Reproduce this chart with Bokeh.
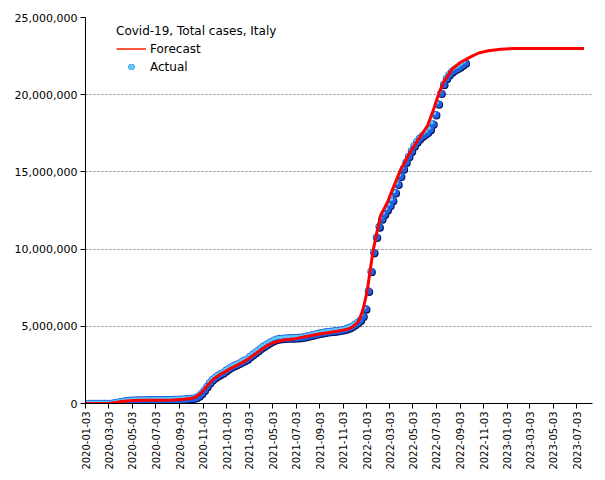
import math
from datetime import datetime
import pandas as pd
from bokeh.plotting import figure
from bokeh.models import (ColumnDataSource, FixedTicker, DatetimeTickFormatter,
                          NumeralTickFormatter, Legend, LegendItem, Range1d)
from bokeh.transform import dodge
from bokeh.embed import file_html
from bokeh.resources import INLINE

# ---------------- data ----------------
actual_start = "2020-01-03"   # weekly observations (Fridays)
actual_cases = [
    0, 0, 0, 0, 2, 3, 3, 20, 888, 4636, 17660, 47021, 86498, 119827, 147577,
    172434, 192994, 207428, 217185, 223885, 228658, 232248, 234531, 236305,
    238011, 239706, 241184, 242639, 244216, 245590, 247537, 249756, 253438,
    258136, 265409, 274644, 283180, 293025, 304323, 317409, 338398, 391611,
    484869, 647674, 862681, 1107303, 1345767, 1538217, 1688939, 1805873,
    1906377, 1991278, 2129376, 2257866, 2368733, 2455185, 2529070, 2611659,
    2706222, 2795796, 2888923, 3046762, 3175279, 3306711, 3438000, 3584899,
    3700393, 3809193, 3920945, 4022653, 4102921, 4162576, 4205970, 4217000,
    4232000, 4243000, 4250000, 4256000, 4262000, 4270000, 4285000, 4310000,
    4350000, 4390000, 4430000, 4475000, 4520000, 4560000, 4590000, 4625000,
    4650000, 4670000, 4690000, 4710000, 4735000, 4760000, 4800000, 4850000,
    4920000, 5010000, 5120000, 5250000, 5400000, 5650000, 6130000, 7280000,
    8550000, 9780000, 10770000, 11440000, 11950000, 12270000, 12560000,
    12830000, 13160000, 13650000, 14200000, 14720000, 15190000, 15630000,
    16000000, 16350000, 16680000, 16950000, 17160000, 17320000, 17440000,
    17570000, 17760000, 18110000, 18700000, 19400000, 20100000, 20660000,
    21050000, 21300000, 21480000, 21600000, 21700000, 21800000, 21930000,
    22060000,
]
actual_dates = pd.date_range(actual_start, periods=len(actual_cases), freq="7D")

forecast_dates = [
    "2020-01-03", "2020-02-20", "2020-03-05", "2020-03-20", "2020-04-05",
    "2020-04-25", "2020-05-20", "2020-07-01", "2020-08-15", "2020-09-15",
    "2020-10-01", "2020-10-15", "2020-11-01", "2020-11-15", "2020-12-01",
    "2020-12-15", "2021-01-01", "2021-01-15", "2021-02-01", "2021-02-15",
    "2021-03-01", "2021-03-15", "2021-04-01", "2021-04-15", "2021-05-01",
    "2021-05-15", "2021-06-01", "2021-07-01", "2021-08-01", "2021-09-01",
    "2021-10-01", "2021-11-01", "2021-11-15", "2021-11-26", "2021-12-08",
    "2021-12-17", "2021-12-25", "2022-01-04", "2022-01-12", "2022-01-20",
    "2022-01-30", "2022-02-08", "2022-02-25", "2022-03-13", "2022-03-31",
    "2022-04-26", "2022-05-22", "2022-06-10", "2022-06-25", "2022-07-08",
    "2022-07-21", "2022-08-14", "2022-09-04", "2022-09-30", "2022-10-21",
    "2022-11-15", "2022-12-17", "2023-01-25", "2023-07-22",
]
forecast_cases = [
    0, 0, 10000, 60000, 130000,
    180000, 205000, 215000, 230000, 270000,
    320000, 420000, 750000, 1200000, 1600000,
    1850000, 2080000, 2300000, 2500000, 2680000,
    2900000, 3150000, 3450000, 3700000, 3900000,
    4020000, 4120000, 4200000, 4350000, 4500000,
    4620000, 4740000, 4820000, 4950000, 5200000,
    5550000, 6200000, 7300000, 8700000, 10000000,
    11200000, 12200000, 13000000, 14000000, 15100000,
    16300000, 17300000, 18000000, 19000000, 20000000,
    20800000, 21700000, 22100000, 22450000, 22700000,
    22850000, 22950000, 23000000, 23000000,
]

x_tick_labels = [
    "2020-01-03", "2020-03-03", "2020-05-03", "2020-07-03", "2020-09-03",
    "2020-11-03", "2021-01-03", "2021-03-03", "2021-05-03", "2021-07-03",
    "2021-09-03", "2021-11-03", "2022-01-03", "2022-03-03", "2022-05-03",
    "2022-07-03", "2022-09-03", "2022-11-03", "2023-01-03", "2023-03-03",
    "2023-05-03", "2023-07-03",
]
y_ticks = [0, 5000000, 10000000, 15000000, 20000000, 25000000]

legend_title = "Covid-19, Total cases, Italy"
series_names = ["Forecast", "Actual"]

# ---------------- figure ----------------
FONT = "DejaVu Sans"
p = figure(width=605, height=472, output_backend="svg", toolbar_location=None,
           x_axis_type="datetime",
           x_range=Range1d(datetime(2020, 1, 2), datetime(2023, 8, 13)),
           y_range=Range1d(0, 25000000),
           min_border_left=85, min_border_right=13, min_border_top=17,
           min_border_bottom=67)
p.outline_line_color = None
p.background_fill_color = "white"
p.border_fill_color = "white"

# grid
p.xgrid.grid_line_color = None
p.ygrid.grid_line_color = "#808080"
p.ygrid.grid_line_dash = "2 2"
p.ygrid.grid_line_width = 1

# y axis
p.yaxis.ticker = FixedTicker(ticks=y_ticks)
p.yaxis.formatter = NumeralTickFormatter(format="0,0")
p.yaxis.major_label_text_font = FONT
p.yaxis.major_label_text_font_size = "11px"
p.yaxis.major_label_text_color = "black"
p.yaxis.major_tick_in = 0
p.yaxis.major_tick_out = 5
p.yaxis.minor_tick_line_color = None
p.yaxis.axis_line_color = "black"
p.yaxis.major_tick_line_color = "black"
p.yaxis.major_label_standoff = 3

# x axis
tick_ms = [pd.Timestamp(t).value / 1e6 for t in x_tick_labels]
p.xaxis.ticker = FixedTicker(ticks=tick_ms)
fmt = "%Y-%m-%d"
p.xaxis.formatter = DatetimeTickFormatter(
    milliseconds=fmt, seconds=fmt, minsec=fmt, minutes=fmt, hourmin=fmt,
    hours=fmt, days=fmt, months=fmt, years=fmt)
p.xaxis.major_label_orientation = math.pi / 2
p.xaxis.major_label_text_font = FONT
p.xaxis.major_label_text_font_size = "10px"
p.xaxis.major_label_text_color = "black"
p.xaxis.major_tick_in = 0
p.xaxis.major_tick_out = 5
p.xaxis.minor_tick_line_color = None
p.xaxis.axis_line_color = "black"
p.xaxis.major_tick_line_color = "black"
p.xaxis.major_label_standoff = 3

# ---------------- glyphs ----------------
act_src = ColumnDataSource(dict(x=actual_dates, y=actual_cases))
fc_src = ColumnDataSource(dict(x=pd.to_datetime(forecast_dates), y=forecast_cases))
# a single-point source: draws nothing in the plot, only used for the legend key
key_src = ColumnDataSource(dict(x=pd.to_datetime(forecast_dates[:1]),
                                y=forecast_cases[:1]))

DAY_MS = 86400000
r_dark = p.scatter(x=dodge("x", 2 * DAY_MS), y=dodge("y", -55000), source=act_src,
                   size=8, marker="circle", fill_color="#05105e", line_color=None)
r_ball = p.scatter(x="x", y="y", source=act_src, size=7.5, marker="circle",
                   fill_color="#1d62e0", line_color=None)
r_hl = p.scatter(x=dodge("x", -3 * DAY_MS), y=dodge("y", 75000), source=act_src,
                 size=3.5, marker="circle", fill_color="#5ec8ff", line_color=None)
r_line = p.line(x="x", y="y", source=fc_src, line_color="#ff0000", line_width=3)
r_key = p.line(x="x", y="y", source=key_src, line_color="#ff2200", line_width=1.5)

legend = Legend(
    items=[LegendItem(label=series_names[0], renderers=[r_key]),
           LegendItem(label=series_names[1], renderers=[r_dark, r_ball, r_hl])],
    title=legend_title, location=(31, 329), padding=0, margin=0,
    border_line_color=None, background_fill_alpha=0,
    glyph_width=30, glyph_height=15, label_height=15, spacing=3,
    label_standoff=4, title_standoff=3,
    label_text_font=FONT, label_text_font_size="12px", label_text_color="black",
    title_text_font=FONT, title_text_font_size="12px",
    title_text_font_style="normal", title_text_color="black")
p.add_layout(legend)

open("out.html", "w").write(file_html(p, INLINE))
